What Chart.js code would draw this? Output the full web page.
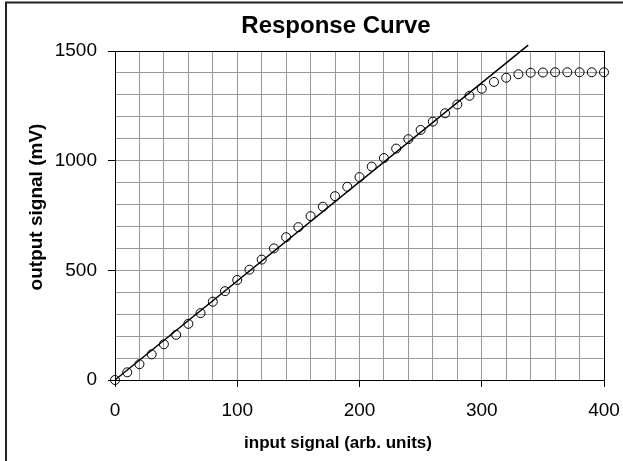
<!DOCTYPE html>
<html>
<head>
<meta charset="utf-8">
<script src="https://cdn.jsdelivr.net/npm/chart.js@4"></script>
<style>
  html, body { margin: 0; padding: 0; background: #fff; }
  #wrap { width: 623px; height: 461px; }
</style>
</head>
<body>
<div id="wrap"><canvas id="responseChart" width="623" height="461"></canvas></div>
<script>
const FONT = '"Liberation Sans", Arial, sans-serif';

const INPUT_SIGNAL = [0, 10, 20, 30, 40, 50, 60, 70, 80, 90,
  100, 110, 120, 130, 140, 150, 160, 170, 180, 190,
  200, 210, 220, 230, 240, 250, 260, 270, 280, 290,
  300, 310, 320, 330, 340, 350, 360, 370, 380, 390, 400];
const OUTPUT_SIGNAL = [0, 35, 72, 117, 163, 206, 256, 305, 357, 405,
  456, 503, 549, 600, 651, 697, 747, 790, 838, 881,
  925, 973, 1012, 1055, 1098, 1140, 1178, 1216, 1256, 1296,
  1328, 1359, 1378, 1394, 1401, 1402, 1403, 1403, 1403, 1403, 1403];
// fitted line end points
const FIT_X = [0, 338];
const FIT_Y = [0, 1527];
const X_TICKS = [0, 100, 200, 300, 400];
const Y_TICKS = [0, 500, 1000, 1500];

const TITLE = 'Response Curve';
const X_TITLE = 'input signal (arb. units)';
const Y_TITLE = 'output signal (mV)';

const measured = INPUT_SIGNAL.map((x, i) => ({ x: x, y: OUTPUT_SIGNAL[i] }));
const fit = FIT_X.map((x, i) => ({ x: x, y: FIT_Y[i] }));

const decorations = {
  id: 'decorations',
  afterDraw(chart) {
    const ctx = chart.ctx;
    const a = chart.chartArea;
    ctx.save();
    // outer frame (left and top edges visible)
    ctx.strokeStyle = '#222';
    ctx.lineWidth = 2;
    ctx.beginPath();
    ctx.moveTo(6, 470);
    ctx.lineTo(6, 2.5);
    ctx.lineTo(630, 2.5);
    ctx.stroke();
    // plot area box
    ctx.strokeStyle = '#000';
    ctx.lineWidth = 1;
    ctx.strokeRect(Math.round(a.left) + 0.5, Math.round(a.top) + 0.5,
      Math.round(a.right - a.left), Math.round(a.bottom - a.top));
    // titles
    ctx.fillStyle = '#000';
    ctx.textAlign = 'center';
    ctx.textBaseline = 'alphabetic';
    ctx.font = 'bold 24px ' + FONT;
    ctx.fillText(TITLE, 336, 33);
    ctx.font = 'bold 17px ' + FONT;
    ctx.fillText(X_TITLE, 338, 448);
    ctx.translate(42, 207);
    ctx.rotate(-Math.PI / 2);
    ctx.font = 'bold 19px ' + FONT;
    ctx.fillText(Y_TITLE, 0, 0);
    ctx.restore();
  }
};

const ctx = document.getElementById('responseChart').getContext('2d');
const responseChart = new Chart(ctx, {
  type: 'scatter',
  data: {
    datasets: [{
      label: 'measured',
      data: measured,
      pointStyle: 'circle',
      pointRadius: 4.5,
      pointBorderWidth: 1,
      borderColor: '#000',
      backgroundColor: 'rgba(0,0,0,0)',
      showLine: false,
      clip: false
    }, {
      label: 'fit',
      data: fit,
      showLine: true,
      pointRadius: 0,
      borderColor: '#000',
      borderWidth: 1.5,
      backgroundColor: '#000',
      clip: false
    }]
  },
  options: {
    responsive: false,
    animation: false,
    events: [],
    layout: { padding: { left: 0, right: 19, top: 51, bottom: 0 } },
    plugins: {
      legend: { display: false },
      tooltip: { enabled: false },
      title: { display: false }
    },
    scales: {
      x: {
        type: 'linear',
        min: 0,
        max: 400,
        afterFit: (scale) => {
          scale.height = 81;
          scale.paddingLeft = 0;
          scale.paddingRight = 0;
        },
        border: { color: '#000', width: 1 },
        grid: {
          color: '#999',
          lineWidth: 1,
          tickLength: 7,
          tickColor: (c) => X_TICKS.includes(c.tick.value) ? '#000' : 'rgba(0,0,0,0)'
        },
        ticks: {
          stepSize: 20,
          autoSkip: false,
          maxRotation: 0,
          padding: 12,
          color: '#000',
          font: { family: FONT, size: 19 },
          callback: (v) => X_TICKS.includes(v) ? String(v) : ''
        }
      },
      y: {
        type: 'linear',
        min: 0,
        max: 1500,
        afterFit: (scale) => {
          scale.width = 115;
          scale.paddingTop = 0;
          scale.paddingBottom = 0;
        },
        border: { color: '#000', width: 1 },
        grid: {
          color: '#999',
          lineWidth: 1,
          tickLength: 7,
          tickColor: (c) => Y_TICKS.includes(c.tick.value) ? '#000' : 'rgba(0,0,0,0)'
        },
        ticks: {
          stepSize: 100,
          autoSkip: false,
          padding: 11,
          color: '#000',
          font: { family: FONT, size: 19 },
          callback: (v) => Y_TICKS.includes(v) ? String(v) : ''
        }
      }
    }
  },
  plugins: [decorations]
});
</script>
</body>
</html>
